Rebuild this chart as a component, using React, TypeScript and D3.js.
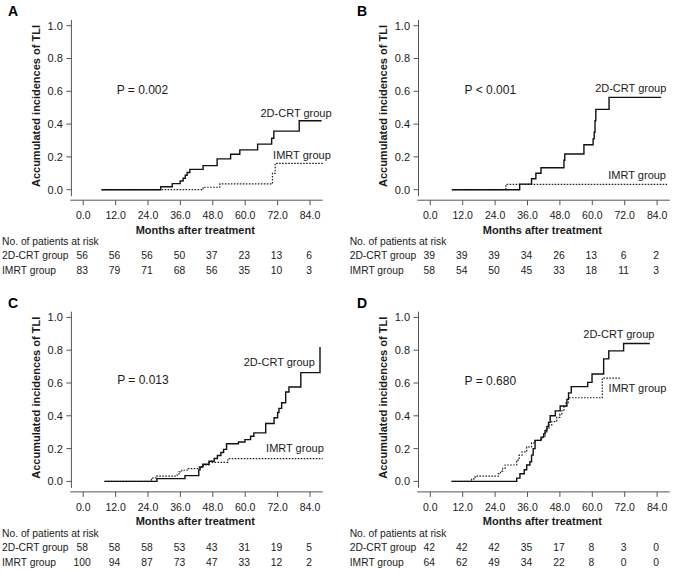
import React from "react";
import * as d3 from "d3";

// ---------- DATA ----------
const xTicks = [0, 12, 24, 36, 48, 60, 72, 84];
const yTicks = [0, 0.2, 0.4, 0.6, 0.8, 1.0];
const groups = ["2D-CRT group", "IMRT group"];

// step curves: [month, cumulative incidence]; last point = end of follow-up
const A_CRT: [number, number][] = [
  [6.8, 0], [28.7, 0.018], [33.0, 0.037], [35.9, 0.053], [37.0, 0.07], [37.8, 0.088],
  [38.5, 0.105], [39.5, 0.124], [44.4, 0.147], [49.6, 0.188], [54.6, 0.216], [58.0, 0.243],
  [64.6, 0.278], [69.8, 0.314], [70.6, 0.357], [80.0, 0.42], [88.3, 0.42],
];
const A_IMRT: [number, number][] = [
  [6.8, 0], [44.4, 0.015], [50.6, 0.035], [70.1, 0.1], [71.1, 0.161], [88.9, 0.161],
];
const B_CRT: [number, number][] = [
  [8.0, 0], [33.1, 0.034], [37.5, 0.067], [39.1, 0.1], [41.0, 0.134], [49.5, 0.18],
  [49.8, 0.218], [56.9, 0.274], [60.3, 0.31], [60.7, 0.35], [61.0, 0.42], [61.3, 0.49],
  [66.2, 0.563], [85.5, 0.563],
];
const B_IMRT: [number, number][] = [
  [8.0, 0], [28.0, 0.032], [87.7, 0.032],
];
const C_CRT: [number, number][] = [
  [7.9, 0], [27.3, 0.017], [37.7, 0.035], [42.8, 0.07], [43.3, 0.088], [44.3, 0.105],
  [46.6, 0.123], [48.5, 0.14], [49.7, 0.158], [51.0, 0.176], [52.0, 0.195], [53.1, 0.23],
  [57.5, 0.24], [59.9, 0.255], [62.0, 0.275], [63.2, 0.296], [67.6, 0.353], [70.7, 0.388],
  [72.0, 0.42], [72.5, 0.445], [73.5, 0.48], [75.0, 0.545], [76.2, 0.576], [80.6, 0.663],
  [87.7, 0.663], [87.7, 0.82],
];
const C_IMRT: [number, number][] = [
  [7.9, 0], [25.3, 0.012], [25.8, 0.022], [27.2, 0.032], [34.8, 0.045], [35.5, 0.058],
  [36.5, 0.068], [38.5, 0.078], [43.0, 0.088], [44.5, 0.1], [46.6, 0.116], [53.6, 0.139],
  [88.7, 0.139],
];
const D_CRT: [number, number][] = [
  [7.9, 0], [32.0, 0.02], [33.2, 0.047], [34.8, 0.071], [35.7, 0.1], [36.9, 0.12],
  [37.5, 0.16], [38.1, 0.2], [38.8, 0.25], [41.0, 0.27], [42.0, 0.29], [42.5, 0.31],
  [43.2, 0.335], [43.8, 0.36], [44.4, 0.4], [46.3, 0.43], [48.1, 0.46], [50.6, 0.5],
  [51.2, 0.54], [52.2, 0.578], [58.3, 0.604], [59.9, 0.655], [64.2, 0.747], [66.1, 0.796],
  [71.6, 0.841], [81.3, 0.841],
];
const D_IMRT: [number, number][] = [
  [7.9, 0], [15.3, 0.016], [16.6, 0.032], [25.2, 0.047], [26.0, 0.063], [26.8, 0.08],
  [27.7, 0.1], [32.0, 0.13], [32.9, 0.16], [34.0, 0.18], [35.7, 0.21], [37.5, 0.235],
  [38.8, 0.25], [41.3, 0.27], [42.5, 0.3], [43.1, 0.32], [44.0, 0.345], [45.0, 0.365],
  [46.8, 0.39], [48.0, 0.41], [48.7, 0.43], [49.5, 0.46], [50.3, 0.48], [51.1, 0.51],
  [63.7, 0.63], [70.5, 0.63],
];

const A_RISK_CRT = [56, 56, 56, 50, 37, 23, 13, 6];
const A_RISK_IMRT = [83, 79, 71, 68, 56, 35, 10, 3];
const B_RISK_CRT = [39, 39, 39, 34, 26, 13, 6, 2];
const B_RISK_IMRT = [58, 54, 50, 45, 33, 18, 11, 3];
const C_RISK_CRT = [58, 58, 58, 53, 43, 31, 19, 5];
const C_RISK_IMRT = [100, 94, 87, 73, 47, 33, 12, 2];
const D_RISK_CRT = [42, 42, 42, 35, 17, 8, 3, 0];
const D_RISK_IMRT = [64, 62, 49, 34, 22, 8, 0, 0];

const P_TEXT = ["P = 0.002", "P < 0.001", "P = 0.013", "P = 0.680"];
const LETTERS = ["A", "B", "C", "D"];

// label anchors in data units [month, value]
const LABEL_POS = [
  { crt: [92.0, 0.47], imrt: [91.7, 0.21], p: [12.4, 0.612] },
  { crt: [87.4, 0.618], imrt: [87.3, 0.09], p: [12.7, 0.612] },
  { crt: [85.8, 0.728], imrt: [89.1, 0.205], p: [12.6, 0.621] },
  { crt: [83.0, 0.9], imrt: [87.4, 0.567], p: [12.7, 0.612] },
];

const PANELS = [
  { crt: A_CRT, imrt: A_IMRT, riskCrt: A_RISK_CRT, riskImrt: A_RISK_IMRT },
  { crt: B_CRT, imrt: B_IMRT, riskCrt: B_RISK_CRT, riskImrt: B_RISK_IMRT },
  { crt: C_CRT, imrt: C_IMRT, riskCrt: C_RISK_CRT, riskImrt: C_RISK_IMRT },
  { crt: D_CRT, imrt: D_IMRT, riskCrt: D_RISK_CRT, riskImrt: D_RISK_IMRT },
];

// ---------- LAYOUT ----------
const W = 674, H = 570;
const FONT = "'Liberation Sans', Arial, Helvetica, sans-serif";
const AXIS = "#555";
const TXT = "#1a1a1a";

function Panel({ idx }: { idx: number }) {
  const col = idx % 2, row = Math.floor(idx / 2);
  const ox = col * 347.1, oy = row * 291.7;
  const x = d3.scaleLinear().domain([0, 84]).range([83.2 + ox, 310.0 + ox]);
  const y = d3.scaleLinear().domain([0, 1]).range([189.7 + oy, 25.7 + oy]);
  const p = PANELS[idx];
  const lp = LABEL_POS[idx];
  const line = d3.line<[number, number]>().x(d => x(d[0])).y(d => y(d[1])).curve(d3.curveStepAfter);
  const yAxisX = x(0) - 11.8;
  const xAxisY = y(0) + 10.5;
  const base = xAxisY;
  const tx = 2 + ox + (col ? 0.6 : 0);
  return (
    <g fontFamily={FONT}>
      <text x={8 + ox + (col ? 2 : 0)} y={16 + oy} fontSize={14} fontWeight="bold" fill="#000">{LETTERS[idx]}</text>
      {/* y axis */}
      <line x1={yAxisX} x2={yAxisX} y1={y(1.035)} y2={y(-0.04)} stroke={AXIS} strokeWidth={1} />
      {yTicks.map(t => (
        <g key={t}>
          <line x1={yAxisX - 5} x2={yAxisX} y1={y(t)} y2={y(t)} stroke={AXIS} strokeWidth={1} />
          <text x={yAxisX - 8.5} y={y(t)} dy="0.36em" textAnchor="end" fontSize={11} fill={TXT}>{t.toFixed(1)}</text>
        </g>
      ))}
      <text transform={`translate(${yAxisX - 35.5},${y(0.51)}) rotate(-90)`} textAnchor="middle" dy="0.36em"
        fontSize={11} fontWeight="bold" fill={TXT}>Accumulated incidences of TLI</text>
      {/* x axis */}
      <line x1={x(0) - 13} x2={x(0) + 239.5} y1={xAxisY} y2={xAxisY} stroke={AXIS} strokeWidth={1} />
      {xTicks.map(t => (
        <g key={t}>
          <line x1={x(t)} x2={x(t)} y1={xAxisY} y2={xAxisY + 5} stroke={AXIS} strokeWidth={1} />
          <text x={x(t)} y={xAxisY + 15} dy="0.36em" textAnchor="middle" fontSize={10.5} fill={TXT}>{t.toFixed(1)}</text>
        </g>
      ))}
      <text x={x(41.5)} y={xAxisY + 29.5} dy="0.36em" textAnchor="middle" fontSize={11} fontWeight="bold" fill={TXT}>Months after treatment</text>
      {/* curves */}
      <path d={line(p.imrt) || ""} fill="none" stroke="#222" strokeWidth={1.2} strokeDasharray="1.6 1.4" />
      <path d={line(p.crt) || ""} fill="none" stroke="#111" strokeWidth={1.4} />
      {/* labels */}
      <text x={x(lp.crt[0])} y={y(lp.crt[1])} dy="0.36em" textAnchor="end" fontSize={11} fill={TXT}>{groups[0]}</text>
      <text x={x(lp.imrt[0])} y={y(lp.imrt[1])} dy="0.36em" textAnchor="end" fontSize={11} fill={TXT}>{groups[1]}</text>
      <text x={x(lp.p[0])} y={y(lp.p[1])} dy="0.36em" textAnchor="start" fontSize={12} fill={TXT}>{P_TEXT[idx]}</text>
      {/* risk table */}
      <text x={tx} y={base + 41} dy="0.36em" fontSize={10.3} fill={TXT}>No. of patients at risk</text>
      <text x={tx} y={base + 55} dy="0.36em" fontSize={10.3} fill={TXT}>{groups[0]}</text>
      <text x={tx} y={base + 70} dy="0.36em" fontSize={10.3} fill={TXT}>{groups[1]}</text>
      {p.riskCrt.map((v, i) => (
        <text key={"c" + i} x={x(xTicks[i]) - 1} y={base + 55} dy="0.36em" textAnchor="middle" fontSize={10.3} fill={TXT}>{v}</text>
      ))}
      {p.riskImrt.map((v, i) => (
        <text key={"i" + i} x={x(xTicks[i]) - 1} y={base + 70} dy="0.36em" textAnchor="middle" fontSize={10.3} fill={TXT}>{v}</text>
      ))}
    </g>
  );
}

export default function App() {
  return (
    <svg width={W} height={H} viewBox={`0 0 ${W} ${H}`}
      style={{ position: "absolute", left: 0, top: 0, display: "block", background: "#fff" }}>
      <rect width={W} height={H} fill="#fff" />
      {[0, 1, 2, 3].map(i => <Panel key={i} idx={i} />)}
    </svg>
  );
}
